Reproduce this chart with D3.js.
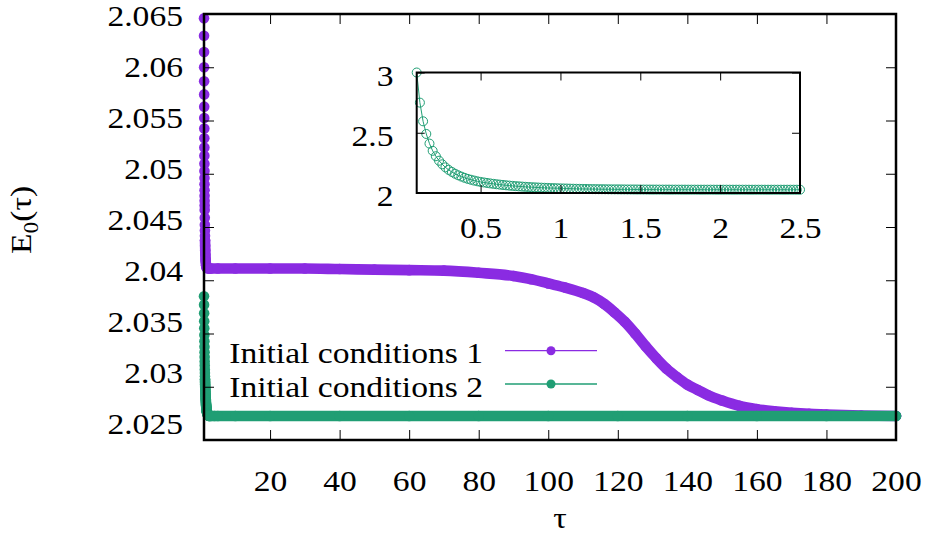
<!DOCTYPE html>
<html>
<head>
<meta charset="utf-8">
<script src="https://cdn.jsdelivr.net/npm/d3@7"></script>
<style>
  body { margin: 0; background: #fff; }
  svg { display: block; }
</style>
</head>
<body>
<svg width="929" height="545"></svg>
<script>
// initial conditions 1 (purple)
var tau1 = [1.00, 1.01, 1.02, 1.03, 1.04, 1.05, 1.06, 1.07, 1.08, 1.09,
  1.10, 1.11, 1.12, 1.13, 1.14, 1.15, 1.16, 1.17, 1.18, 1.19,
  1.20, 1.22, 1.24, 1.26, 1.28, 1.30, 1.33, 1.36, 1.40, 1.45,
  1.50, 1.60, 1.70, 1.80, 2.0, 2.5, 3, 5, 10, 20,
  30, 40, 50, 60, 70, 80, 90, 95, 100, 105,
  110, 113, 116, 119, 122, 125, 128, 131, 134, 137,
  140, 143, 146, 150, 155, 160, 165, 170, 175, 180,
  190, 200]
var e1 = [2.06460, 2.06296, 2.06143, 2.06000, 2.05868, 2.05745, 2.05630, 2.05524, 2.05425, 2.05333,
  2.05247, 2.05168, 2.05094, 2.05025, 2.04961, 2.04901, 2.04846, 2.04794, 2.04746, 2.04702,
  2.04660, 2.04586, 2.04522, 2.04466, 2.04418, 2.04376, 2.04324, 2.04282, 2.04239, 2.04200,
  2.04173, 2.04140, 2.04125, 2.04117, 2.04113, 2.0411, 2.0411, 2.0411, 2.0411, 2.0411,
  2.0411, 2.04105, 2.0410, 2.04095, 2.0409, 2.0407, 2.0404, 2.0401, 2.0397, 2.0393,
  2.0388, 2.0384, 2.0378, 2.0370, 2.0361, 2.0350, 2.0338, 2.0327, 2.0317, 2.0309,
  2.0302, 2.0297, 2.0292, 2.0287, 2.0282, 2.0279, 2.0277, 2.02755, 2.02745, 2.0274,
  2.0273, 2.02725]

// initial conditions 2 (green), also used by the inset
var tau2 = [0.10, 0.12, 0.14, 0.16, 0.18, 0.20, 0.22, 0.24, 0.26, 0.28,
  0.30, 0.32, 0.34, 0.36, 0.38, 0.40, 0.42, 0.44, 0.46, 0.48,
  0.50, 0.52, 0.54, 0.56, 0.58, 0.60, 0.62, 0.64, 0.66, 0.68,
  0.70, 0.72, 0.74, 0.76, 0.78, 0.80, 0.82, 0.84, 0.86, 0.88,
  0.90, 0.92, 0.94, 0.96, 0.98, 1.00, 1.02, 1.04, 1.06, 1.08,
  1.10, 1.12, 1.14, 1.16, 1.18, 1.20, 1.22, 1.24, 1.26, 1.28,
  1.30, 1.32, 1.34, 1.36, 1.38, 1.40, 1.42, 1.44, 1.46, 1.48,
  1.50, 1.52, 1.54, 1.56, 1.58, 1.60, 1.62, 1.64, 1.66, 1.68,
  1.70, 1.72, 1.74, 1.76, 1.78, 1.80, 1.82, 1.84, 1.86, 1.88,
  1.90, 1.92, 1.94, 1.96, 1.98, 2.00, 2.02, 2.04, 2.06, 2.08,
  2.10, 2.12, 2.14, 2.16, 2.18, 2.20, 2.22, 2.24, 2.26, 2.28,
  2.30, 2.32, 2.34, 2.36, 2.38, 2.40, 2.42, 2.44, 2.46, 2.48,
  2.50,
  3, 4, 5, 10, 20, 40, 60, 80, 100, 120, 140, 160, 180, 200]
var e2 = [3.000, 2.750, 2.595, 2.490, 2.410, 2.350, 2.305, 2.268, 2.238, 2.213,
  2.192, 2.175, 2.160, 2.147, 2.136, 2.126, 2.117, 2.110, 2.103, 2.097,
  2.092, 2.0876, 2.0835, 2.0796, 2.0761, 2.0727, 2.0696, 2.0667, 2.0640, 2.0615,
  2.0592, 2.0570, 2.0550, 2.0531, 2.0513, 2.0497, 2.0482, 2.0468, 2.0455, 2.0443,
  2.0432, 2.0421, 2.0411, 2.0402, 2.0393, 2.0385, 2.03769, 2.0369, 2.03616, 2.03549,
  2.03486, 2.03428, 2.03375, 2.03325, 2.0328, 2.03238, 2.03199, 2.03163, 2.03129, 2.03099,
  2.0307, 2.03044, 2.0302, 2.02997, 2.02977, 2.02958, 2.0294, 2.02924, 2.02909, 2.02895,
  2.02882, 2.0287, 2.02859, 2.02849, 2.02839, 2.02831, 2.02823, 2.02815, 2.02808, 2.02802,
  2.02796, 2.02791, 2.02786, 2.02781, 2.02777, 2.02773, 2.02769, 2.02766, 2.02763, 2.0276,
  2.02757, 2.02755, 2.02752, 2.0275, 2.02748, 2.02747, 2.02745, 2.02744, 2.02742, 2.02741,
  2.0274, 2.02739, 2.02738, 2.02737, 2.02736, 2.02735, 2.02734, 2.02733, 2.02732, 2.02731,
  2.0273, 2.0273, 2.02729, 2.02729, 2.02728, 2.02728, 2.02727, 2.02727, 2.02727, 2.02726,
  2.02726,
  2.02725, 2.02725, 2.02725, 2.02725, 2.02725, 2.02725, 2.02725, 2.02725, 2.02725, 2.02725,
  2.02725, 2.02725, 2.02725, 2.02725]

var xTicks = [20, 40, 60, 80, 100, 120, 140, 160, 180, 200]
var yTicks = [2.025, 2.03, 2.035, 2.04, 2.045, 2.05, 2.055, 2.06, 2.065]
var insetXTicks = [0.5, 1, 1.5, 2, 2.5]
var insetYTicks = [2, 2.5, 3]
var seriesNames = ['Initial conditions 1', 'Initial conditions 2']
var seriesColors = ['#8a2be2', '#209e74']

var font = "'Liberation Serif', Tinos, 'Times New Roman', serif"
var svg = d3.select("svg").style("font-family", font)
var sx = 1.12   // glyphs in the picture are a bit wider than Liberation Serif
var r = 5.3

var x = d3.scaleLinear().domain([1, 200]).range([204, 896])
var y = d3.scaleLinear().domain([2.025, 2.065]).range([440, 14])

var line = d3.line().curve(d3.curveMonotoneX).x(d => x(d[0])).y(d => y(d[1]))

function series (taus, es, color, bandFrom) {
  var pts = taus.map((t, i) => [t, es[i]]).filter(d => d[0] >= 1)
  var g = svg.append("g")
  // the points are so dense in the original that they merge into a band
  g.append("path")
    .datum(pts.filter(d => d[0] >= bandFrom))
    .attr("d", line)
    .attr("fill", "none")
    .attr("stroke", color)
    .attr("stroke-width", 2 * r)
    .attr("stroke-linejoin", "round")
    .attr("stroke-linecap", "round")
  g.append("path")
    .datum(pts)
    .attr("d", line)
    .attr("fill", "none")
    .attr("stroke", color)
    .attr("stroke-width", 1)
  g.selectAll("circle")
    .data(pts)
  .enter().append("circle")
    .attr("cx", d => x(d[0]))
    .attr("cy", d => y(d[1]))
    .attr("r", r)
    .attr("fill", color)
}

series(tau1, e1, seriesColors[0], 1.3)
series(tau2, e2, seriesColors[1], 1.3)

// axes, ticks pointing inwards like gnuplot
function styleAxis (g) {
  g.attr("font-family", null)
  g.select(".domain").remove()
  g.selectAll(".tick line").attr("stroke", "#000").attr("stroke-width", 1)
  g.selectAll("text").attr("fill", "#000").attr("font-size", 30)
    .style("font-family", font)
}

var yAxis = svg.append("g")
  .attr("transform", "translate(204,0)")
  .call(d3.axisLeft(y).tickValues(yTicks).tickSizeInner(-10).tickSizeOuter(0)
    .tickFormat(d3.format("")))
  .call(styleAxis)
yAxis.selectAll("text")
  .attr("dy", 0)
  .attr("x", -21 / sx)
  .attr("y", d => 15 + (y(d) - 14) * 0.958 + 10 - y(d))
  .attr("transform", "scale(" + sx + ",1)")

svg.append("g")
  .attr("transform", "translate(896,0)")
  .call(d3.axisRight(y).tickValues(yTicks).tickSizeInner(-10).tickSizeOuter(0).tickFormat(""))
  .call(styleAxis)

var xAxis = svg.append("g")
  .attr("transform", "translate(0,440)")
  .call(d3.axisBottom(x).tickValues(xTicks).tickSizeInner(-10).tickSizeOuter(0))
  .call(styleAxis)
xAxis.selectAll(".tick text")
  .attr("dy", 0)
  .attr("y", 51)
  .attr("x", 0)
  .attr("transform", "scale(" + sx + ",1)")

svg.append("g")
  .attr("transform", "translate(0,14)")
  .call(d3.axisTop(x).tickValues(xTicks).tickSizeInner(-10).tickSizeOuter(0).tickFormat(""))
  .call(styleAxis)

svg.append("rect")
  .attr("x", 204).attr("y", 14)
  .attr("width", 692).attr("height", 426)
  .attr("fill", "none")
  .attr("stroke", "#000")
  .attr("stroke-width", 2.5)

// axis titles
svg.append("text")
  .attr("transform", "translate(560,528) scale(" + sx + ",1)")
  .attr("text-anchor", "middle")
  .attr("font-size", 30)
  .style("font-family", font)
  .text("τ")

var yt = svg.append("text")
  .attr("transform", "translate(31,220) rotate(-90) scale(" + sx + ",1)")
  .attr("text-anchor", "middle")
  .attr("font-size", 30)
  .style("font-family", font)
yt.append("tspan").text("E")
yt.append("tspan").attr("font-size", 21).attr("dy", 7).text("0")
yt.append("tspan").attr("dy", -7).text("(τ)")

// legend
var legend = svg.append("g")
seriesNames.forEach(function (name, i) {
  var ly = 350.7 + i * 33.3
  legend.append("text")
    .attr("transform", "translate(483," + (ly + 12.7) + ") scale(" + sx + ",1)")
    .attr("text-anchor", "end")
    .attr("font-size", 30)
    .style("font-family", font)
    .text(name)
  legend.append("line")
    .attr("x1", 505).attr("x2", 597)
    .attr("y1", ly).attr("y2", ly)
    .attr("stroke", seriesColors[i])
    .attr("stroke-width", 1.3)
  legend.append("circle")
    .attr("cx", 551).attr("cy", ly)
    .attr("r", 4.5)
    .attr("fill", seriesColors[i])
})

// inset
var ix = d3.scaleLinear().domain([0.1, 2.5]).range([416.7, 800])
var iy = d3.scaleLinear().domain([2, 3]).range([193, 72.5])
var inset = svg.append("g")
var ipts = tau2.map((t, i) => [t, e2[i]]).filter(d => d[0] <= 2.5)
var iline = d3.line().x(d => ix(d[0])).y(d => iy(d[1]))

inset.append("path")
  .datum(ipts)
  .attr("d", iline)
  .attr("fill", "none")
  .attr("stroke", seriesColors[1])
  .attr("stroke-width", 1)
inset.selectAll("circle")
  .data(ipts)
.enter().append("circle")
  .attr("cx", d => ix(d[0]))
  .attr("cy", d => iy(d[1]))
  .attr("r", 4.5)
  .attr("fill", "none")
  .attr("stroke", seriesColors[1])
  .attr("stroke-width", 1)

var ixAxis = inset.append("g")
  .attr("transform", "translate(0,193)")
  .call(d3.axisBottom(ix).tickValues(insetXTicks).tickSizeInner(-8).tickSizeOuter(0)
    .tickFormat(d3.format("")))
  .call(styleAxis)
ixAxis.selectAll("text")
  .attr("dy", 0)
  .attr("y", 45)
  .attr("transform", "scale(" + sx + ",1)")

inset.append("g")
  .attr("transform", "translate(0,72.5)")
  .call(d3.axisTop(ix).tickValues(insetXTicks).tickSizeInner(-8).tickSizeOuter(0).tickFormat(""))
  .call(styleAxis)

var iyAxis = inset.append("g")
  .attr("transform", "translate(416.7,0)")
  .call(d3.axisLeft(iy).tickValues(insetYTicks).tickSizeInner(-8).tickSizeOuter(0)
    .tickFormat(d3.format("")))
  .call(styleAxis)
iyAxis.selectAll("text")
  .attr("dy", 0)
  .attr("x", -23.2 / sx)
  .attr("y", 12.5)
  .attr("transform", "scale(" + sx + ",1)")

inset.append("g")
  .attr("transform", "translate(800,0)")
  .call(d3.axisRight(iy).tickValues(insetYTicks).tickSizeInner(-8).tickSizeOuter(0).tickFormat(""))
  .call(styleAxis)

inset.append("rect")
  .attr("x", 416.7).attr("y", 72.5)
  .attr("width", 800 - 416.7).attr("height", 193 - 72.5)
  .attr("fill", "none")
  .attr("stroke", "#000")
  .attr("stroke-width", 2)
</script>
</body>
</html>
